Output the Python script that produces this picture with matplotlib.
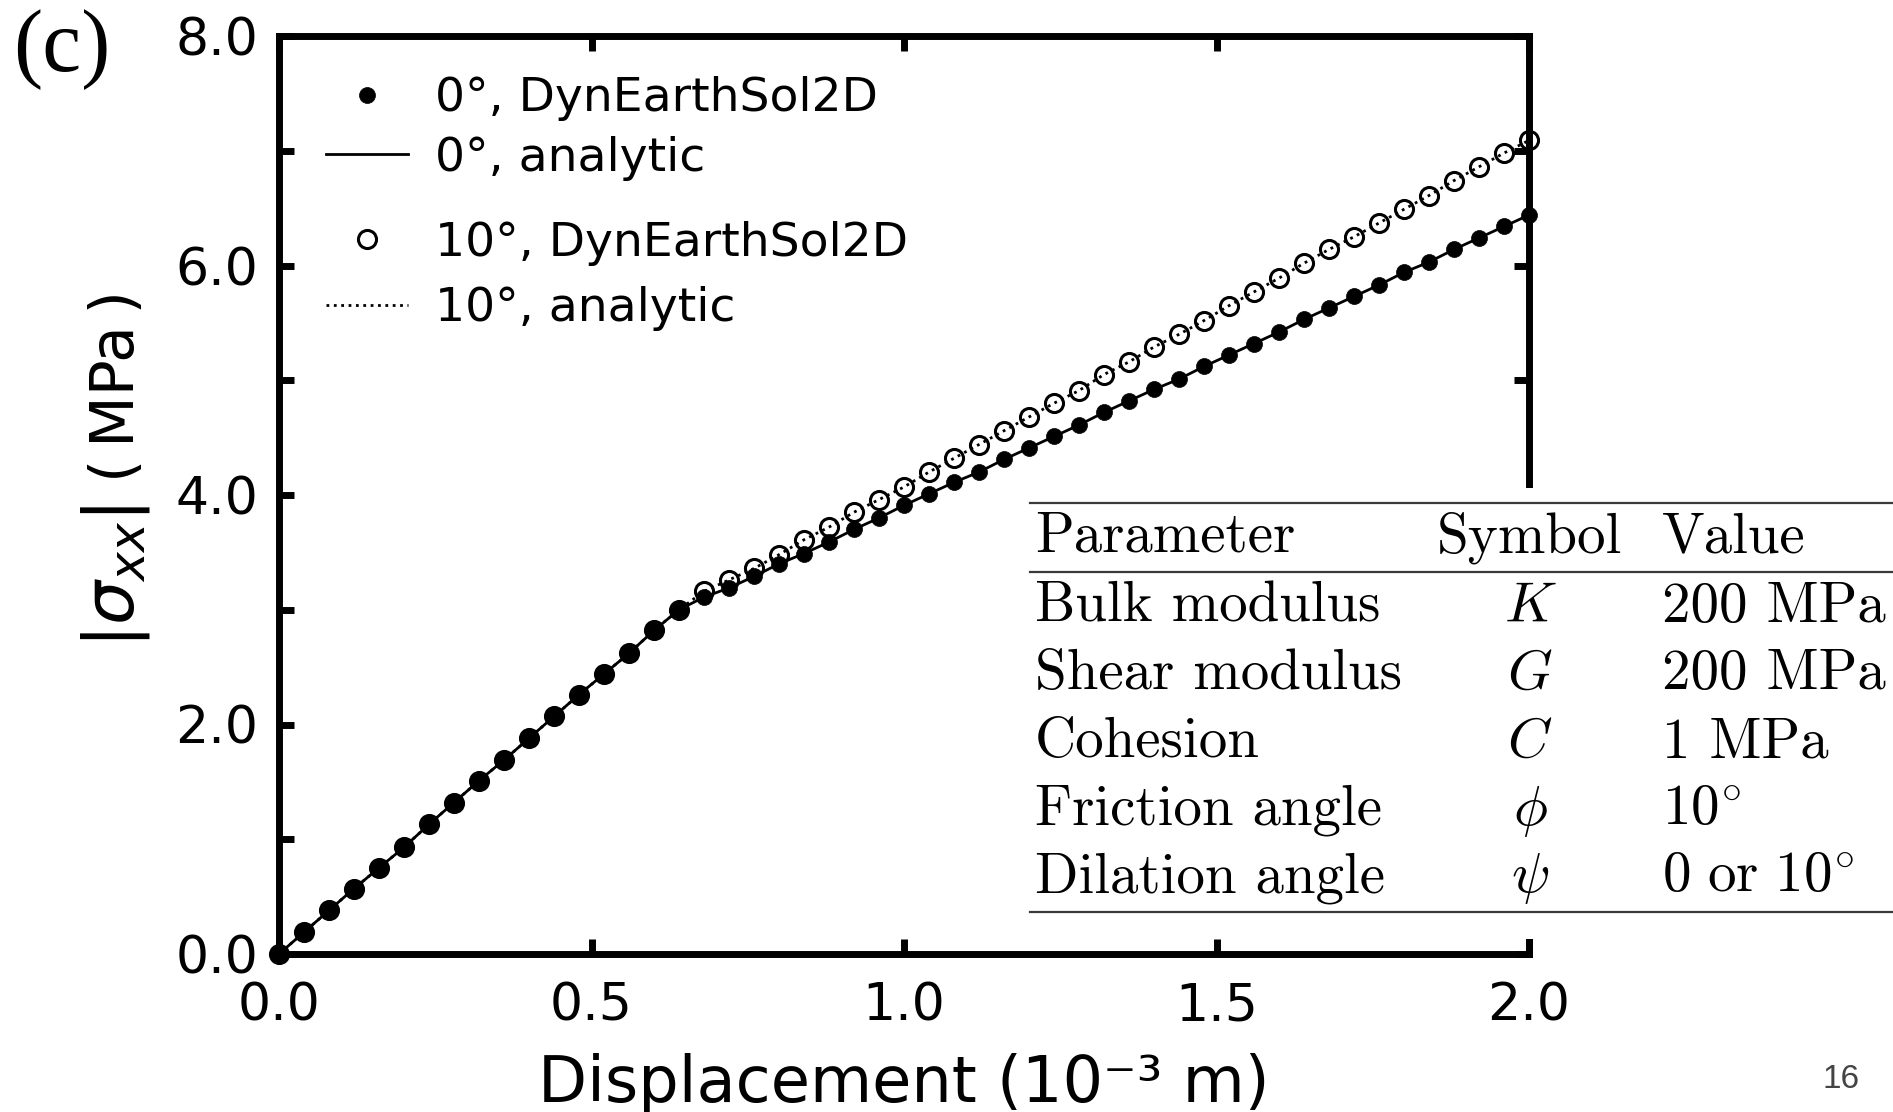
import matplotlib
matplotlib.use('Agg')
import matplotlib.pyplot as plt
from matplotlib.lines import Line2D
from matplotlib.patches import Rectangle

# displacement (1e-3 m) and |sigma_xx| (MPa) for friction angle 0 and 10 deg
disp = [0.00, 0.04, 0.08, 0.12, 0.16, 0.20, 0.24, 0.28, 0.32, 0.36,
        0.40, 0.44, 0.48, 0.52, 0.56, 0.60, 0.64, 0.68, 0.72, 0.76,
        0.80, 0.84, 0.88, 0.92, 0.96, 1.00, 1.04, 1.08, 1.12, 1.16,
        1.20, 1.24, 1.28, 1.32, 1.36, 1.40, 1.44, 1.48, 1.52, 1.56,
        1.60, 1.64, 1.68, 1.72, 1.76, 1.80, 1.84, 1.88, 1.92, 1.96, 2.00]
sxx_phi0 = [0.00, 0.19, 0.38, 0.57, 0.75, 0.93, 1.13, 1.32, 1.51, 1.69,
            1.88, 2.07, 2.26, 2.44, 2.62, 2.82, 3.00, 3.11, 3.19, 3.29,
            3.40, 3.49, 3.59, 3.70, 3.80, 3.91, 4.01, 4.11, 4.20, 4.31,
            4.41, 4.51, 4.61, 4.72, 4.82, 4.92, 5.01, 5.12, 5.22, 5.32,
            5.42, 5.53, 5.63, 5.73, 5.83, 5.94, 6.03, 6.14, 6.24, 6.34, 6.44]
sxx_phi10 = [0.00, 0.19, 0.38, 0.57, 0.75, 0.93, 1.13, 1.32, 1.51, 1.69,
             1.88, 2.07, 2.26, 2.44, 2.62, 2.82, 3.00, 3.16, 3.26, 3.36,
             3.48, 3.61, 3.72, 3.85, 3.96, 4.07, 4.20, 4.32, 4.44, 4.56,
             4.68, 4.80, 4.91, 5.05, 5.16, 5.29, 5.40, 5.52, 5.65, 5.77,
             5.89, 6.02, 6.14, 6.25, 6.37, 6.49, 6.61, 6.74, 6.86, 6.98, 7.09]

xticks = [0.0, 0.5, 1.0, 1.5, 2.0]
yticks = [0.0, 2.0, 4.0, 6.0, 8.0]
yticks_minor = [1.0, 3.0, 5.0, 7.0]

# material parameters table
param_names = ['Bulk modulus', 'Shear modulus', 'Cohesion', 'Friction angle', 'Dilation angle']
param_symbols = [r'$K$', r'$G$', r'$C$', r'$\phi$', r'$\psi$']
param_values = ['200 MPa', '200 MPa', '1 MPa', r'$\mathrm{10}^{\circ}$',
                r'$\mathrm{0\ or\ 10}^{\circ}$']

W, H = 1893, 1112


def fx(x):
    return x / W


def fy(y):
    return 1 - y / H


fig = plt.figure(figsize=(W / 100, H / 100), dpi=100)
ax = fig.add_axes([fx(279), fy(954), (1529 - 279) / W, (954 - 36) / H])

ax.plot(disp, sxx_phi10, 'o', mfc='white', mec='k', ms=13, mew=2.2,
        clip_on=False, label='10°, DynEarthSol2D')
ax.plot(disp, sxx_phi10, ':', color='k', lw=2, label='10°, analytic')
ax.plot(disp, sxx_phi0, 'o', color='k', ms=11.5, mew=0.5,
        clip_on=False, label='0°, DynEarthSol2D')
ax.plot(disp, sxx_phi0, '-', color='k', lw=2, label='0°, analytic')

ax.set_xlim(0, 2)
ax.set_ylim(0, 8)
ax.set_xticks(xticks)
ax.set_xticklabels(['%.1f' % v for v in xticks])
ax.set_yticks(yticks)
ax.set_yticklabels(['%.1f' % v for v in yticks])
ax.set_yticks(yticks_minor, minor=True)
ax.tick_params(which='both', direction='in', length=11, width=5,
               top=True, right=True, labelsize=37.5)
ax.tick_params(axis='x', pad=20)
ax.tick_params(axis='y', pad=15)
for sp in ax.spines.values():
    sp.set_linewidth(5)

ax.set_xlabel('Displacement (10⁻³ m)', fontsize=46, va='baseline')
ax.xaxis.set_label_coords(fx(904), fy(1102), transform=fig.transFigure)

fig.text(fx(116), fy(576), r'$|\sigma_{xx}|$', rotation=90, fontsize=50,
         ha='center', va='center', math_fontfamily='dejavusans')
fig.text(fx(117), fy(386), '(\u2009MPa\u2009)', rotation=90, fontsize=43,
         ha='center', va='center')

# two stacked legends
h = ax.get_lines()
leg_kw = dict(frameon=False, fontsize=34, handlelength=1.73, handletextpad=0.57,
              borderpad=0, borderaxespad=0, numpoints=1,
              loc='center left', bbox_transform=fig.transFigure)
leg1 = ax.legend([h[2], h[3]], [h[2].get_label(), h[3].get_label()],
                 bbox_to_anchor=(fx(326), fy(128.5)), labelspacing=0.3, **leg_kw)
ax.add_artist(leg1)
ax.legend([h[0], h[1]], [h[0].get_label(), h[1].get_label()],
          bbox_to_anchor=(fx(326), fy(276)), labelspacing=0.43, **leg_kw)

# parameter table on a white panel over the lower right corner
fig.add_artist(Rectangle((fx(1020), fy(939)), 1 - fx(1020), (939 - 488) / H,
                         transform=fig.transFigure, facecolor='white',
                         edgecolor='none', zorder=10))
for yr in [503, 572, 912]:
    fig.add_artist(Line2D([fx(1030), 1.0], [fy(yr), fy(yr)], transform=fig.transFigure,
                          color='#3a3a3a', lw=1.6, zorder=11))

tkw = dict(fontsize=41, family='cmr10', math_fontfamily='cm', va='baseline', zorder=12)
fig.text(fx(1035), fy(552), 'Parameter', ha='left', **tkw)
fig.text(fx(1529), fy(552), 'Symbol', ha='center', **tkw)
fig.text(fx(1662), fy(552), 'Value', ha='left', **tkw)
row_base = [622, 689, 757, 825, 892]
for name, sym, val, yb in zip(param_names, param_symbols, param_values, row_base):
    fig.text(fx(1035), fy(yb), name, ha='left', **tkw)
    fig.text(fx(1530), fy(yb), sym, ha='center', **tkw)
    fig.text(fx(1662), fy(yb), val, ha='left', **tkw)

fig.text(fx(62), fy(50), '(c)', family='Liberation Serif', fontsize=63,
         ha='center', va='center')
fig.text(fx(1841), fy(1080), '16', family='Liberation Sans', fontsize=24,
         color='#444444', ha='center', va='center')

fig.savefig('out.png', dpi=100)
